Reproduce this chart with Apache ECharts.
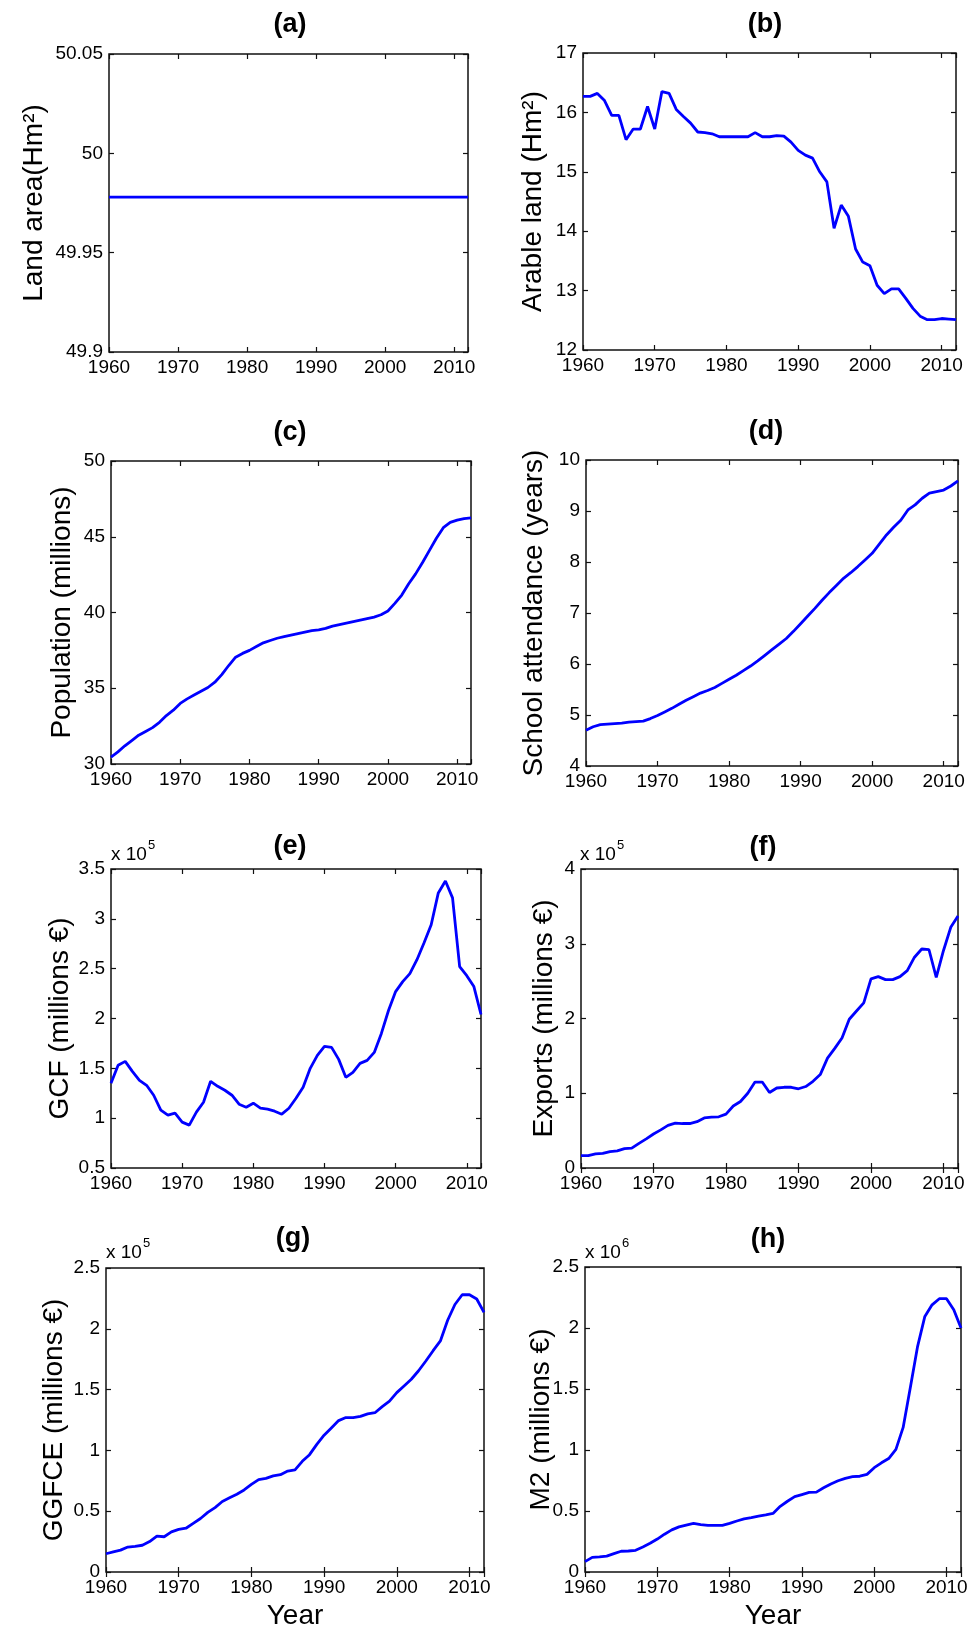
<!DOCTYPE html>
<html>
<head>
<meta charset="utf-8">
<script src="https://cdn.jsdelivr.net/npm/echarts@6/dist/echarts.min.js"></script>
<style>
html, body { margin: 0; padding: 0; background: #fff; }
#chart { width: 978px; height: 1634px; }
</style>
</head>
<body>
<div id="chart"></div>
<script>
// years on the x axis (one point per year)
var years = [1960, 1961, 1962, 1963, 1964, 1965, 1966, 1967, 1968, 1969,
	1970, 1971, 1972, 1973, 1974, 1975, 1976, 1977, 1978, 1979,
	1980, 1981, 1982, 1983, 1984, 1985, 1986, 1987, 1988, 1989,
	1990, 1991, 1992, 1993, 1994, 1995, 1996, 1997, 1998, 1999,
	2000, 2001, 2002, 2003, 2004, 2005, 2006, 2007, 2008, 2009,
	2010, 2011, 2012];
var xTicks = [1960, 1970, 1980, 1990, 2000, 2010];

// (a) land area, Hm2
var landArea = [49.978, 49.978, 49.978, 49.978, 49.978, 49.978, 49.978, 49.978, 49.978, 49.978,
	49.978, 49.978, 49.978, 49.978, 49.978, 49.978, 49.978, 49.978, 49.978, 49.978,
	49.978, 49.978, 49.978, 49.978, 49.978, 49.978, 49.978, 49.978, 49.978, 49.978,
	49.978, 49.978, 49.978, 49.978, 49.978, 49.978, 49.978, 49.978, 49.978, 49.978,
	49.978, 49.978, 49.978, 49.978, 49.978, 49.978, 49.978, 49.978, 49.978, 49.978,
	49.978, 49.978, 49.978];
// (b) arable land, Hm2
var arableLand = [16.27, 16.27, 16.32, 16.20, 15.95, 15.95, 15.54, 15.72, 15.72, 16.10,
	15.72, 16.35, 16.32, 16.05, 15.93, 15.82, 15.67, 15.66, 15.64, 15.59,
	15.59, 15.59, 15.59, 15.59, 15.66, 15.59, 15.59, 15.61, 15.60, 15.50,
	15.36, 15.28, 15.23, 15.00, 14.83, 14.05, 14.44, 14.25, 13.70, 13.48,
	13.42, 13.09, 12.95, 13.03, 13.03, 12.87, 12.70, 12.57, 12.51, 12.51,
	12.53, 12.52, 12.51];
// (c) population, millions
var population = [30.45, 30.8, 31.2, 31.55, 31.9, 32.15, 32.4, 32.75, 33.2, 33.55,
	34.0, 34.3, 34.55, 34.8, 35.05, 35.4, 35.9, 36.5, 37.05, 37.3,
	37.5, 37.75, 38.0, 38.15, 38.3, 38.4, 38.5, 38.6, 38.7, 38.8,
	38.85, 38.95, 39.1, 39.2, 39.3, 39.4, 39.5, 39.6, 39.7, 39.85,
	40.1, 40.6, 41.15, 41.9, 42.55, 43.3, 44.1, 44.9, 45.6, 45.95,
	46.1, 46.2, 46.25];
// (d) school attendance, years
var school = [4.70, 4.77, 4.81, 4.82, 4.83, 4.84, 4.86, 4.87, 4.88, 4.93,
	4.99, 5.06, 5.13, 5.21, 5.29, 5.36, 5.43, 5.48, 5.54, 5.62,
	5.70, 5.78, 5.87, 5.96, 6.06, 6.17, 6.28, 6.39, 6.50, 6.64,
	6.79, 6.94, 7.09, 7.25, 7.40, 7.54, 7.68, 7.79, 7.91, 8.04,
	8.17, 8.35, 8.53, 8.68, 8.82, 9.02, 9.12, 9.25, 9.35, 9.38,
	9.41, 9.49, 9.59];
// (e) GCF, millions EUR
var gcf = [135000, 153000, 157000, 147000, 138000, 133000, 123000, 108000, 103000, 105000,
	96000, 93000, 106000, 116000, 137000, 132000, 128000, 123000, 114000, 111000,
	115000, 110000, 109000, 107000, 104000, 110000, 120000, 131000, 150000, 163000,
	172000, 171000, 159000, 141000, 146000, 155000, 158000, 166000, 185000, 208000,
	227000, 237000, 245000, 259000, 276000, 294000, 326000, 338000, 321000, 252000,
	243000, 232000, 204000];
// (f) exports, millions EUR
var exportsVal = [16500, 16500, 19000, 19500, 22000, 23000, 26000, 26500, 33000, 39000,
	45500, 51000, 57000, 60000, 59500, 59500, 62000, 67000, 68000, 68500,
	72000, 83000, 89000, 100000, 115000, 115000, 101000, 107000, 108000, 108000,
	106000, 109000, 116000, 125000, 147000, 160000, 174000, 199000, 210000, 221000,
	253000, 256000, 252000, 252000, 256000, 264000, 282000, 293000, 292000, 255000,
	291000, 322000, 337000];
// (g) GGFCE, millions EUR
var ggfce = [15000, 16500, 18000, 20500, 21000, 22000, 25000, 29500, 29000, 33000,
	35000, 36000, 40000, 44000, 49000, 53000, 58000, 61000, 64000, 67500,
	72000, 76000, 77000, 79000, 80000, 83000, 84000, 91000, 96500, 105000,
	112500, 118500, 124500, 127000, 127000, 128000, 130000, 131000, 136000, 140500,
	147500, 153000, 158500, 165500, 173500, 182000, 190000, 207000, 220000, 228000,
	228000, 224500, 213500];
// (h) M2, millions EUR
var m2 = [85000, 120000, 124000, 130000, 150000, 170000, 172000, 178000, 205000, 235000,
	270000, 310000, 345000, 370000, 385000, 398000, 388000, 382000, 382000, 382000,
	398000, 418000, 435000, 445000, 458000, 468000, 480000, 538000, 580000, 618000,
	635000, 652000, 655000, 690000, 722000, 748000, 768000, 782000, 785000, 800000,
	855000, 895000, 930000, 1005000, 1185000, 1515000, 1850000, 2095000, 2190000, 2240000,
	2240000, 2150000, 2000000];

var FONT = '"Liberation Sans", Arial, Helvetica, sans-serif';
var INK = '#000';
var LINE = '#0000ff';

// layout of each panel (pixels)
var panels = [
	{tag: '(a)', data: landArea, name: 'Land area(Hm²)', left: 109, top: 54, width: 359, height: 298,
		min: 49.9, max: 50.05, step: 0.05, gap: 61, tx: 290, ty: 25},
	{tag: '(b)', data: arableLand, name: 'Arable land (Hm²)', left: 583, top: 53, width: 373, height: 297,
		min: 12, max: 17, step: 1, gap: 36, tx: 765, ty: 25},
	{tag: '(c)', data: population, name: 'Population (millions)', left: 111, top: 461, width: 360, height: 303,
		min: 30, max: 50, step: 5, gap: 35, tx: 290, ty: 433},
	{tag: '(d)', data: school, name: 'School attendance (years)', left: 586, top: 460, width: 372, height: 306,
		min: 4, max: 10, step: 1, gap: 38, tx: 766, ty: 432},
	{tag: '(e)', data: gcf, name: 'GCF (millions €)', left: 111, top: 869, width: 370, height: 299,
		min: 50000, max: 350000, step: 50000, gap: 37, tx: 290, ty: 847, scale: 1e5, exp: '5', ex: 111, ey: 855},
	{tag: '(f)', data: exportsVal, name: 'Exports (millions €)', left: 581, top: 869, width: 377, height: 299,
		min: 0, max: 400000, step: 100000, gap: 23, tx: 763, ty: 848, scale: 1e5, exp: '5', ex: 580, ey: 855},
	{tag: '(g)', data: ggfce, name: 'GGFCE (millions €)', left: 106, top: 1268, width: 378, height: 304,
		min: 0, max: 250000, step: 50000, gap: 38, tx: 293, ty: 1239, scale: 1e5, exp: '5', ex: 106, ey: 1253, year: true},
	{tag: '(h)', data: m2, name: 'M2 (millions €)', left: 585, top: 1267, width: 376, height: 305,
		min: 0, max: 2500000, step: 500000, gap: 30, tx: 768, ty: 1240, scale: 1e6, exp: '6', ex: 585, ey: 1253, year: true}
];

var grids = [], xAxes = [], yAxes = [], series = [], graphics = [];

function tickLabel(p) {
	return function (v) {
		var s = p.scale ? v / p.scale : v;
		return String(+s.toFixed(2));
	};
}

panels.forEach(function (p, i) {
	grids.push({
		left: p.left, top: p.top, width: p.width, height: p.height,
		show: true, borderColor: '#111', borderWidth: 1.5, backgroundColor: '#fff',
		outerBoundsMode: 'none'
	});
	var tick = {show: true, inside: true, length: 5, lineStyle: {color: '#111', width: 1.2}};
	// bottom axis with labels
	xAxes.push({
		type: 'value', gridIndex: i, position: 'bottom', min: 1960, max: 2012, interval: 10,
		axisLine: {show: false}, axisTick: tick, splitLine: {show: false},
		axisLabel: {
			color: INK, fontSize: 19, fontFamily: FONT, margin: 6,
			formatter: function (v) { return xTicks.indexOf(v) >= 0 ? String(v) : ''; }
		},
		name: p.year ? 'Year' : '', nameLocation: 'middle', nameGap: 30, nameMoveOverlap: false,
		nameTextStyle: {color: INK, fontSize: 28, fontFamily: FONT}
	});
	// top axis, ticks only
	xAxes.push({
		type: 'value', gridIndex: i, position: 'top', min: 1960, max: 2012, interval: 10,
		axisLine: {show: false}, axisTick: tick, axisLabel: {show: false}, splitLine: {show: false}
	});
	// left axis with labels and title
	yAxes.push({
		type: 'value', gridIndex: i, position: 'left', min: p.min, max: p.max, interval: p.step,
		axisLine: {show: false}, axisTick: tick, splitLine: {show: false},
		axisLabel: {color: INK, fontSize: 19, fontFamily: FONT, margin: 6, formatter: tickLabel(p)},
		name: p.name, nameLocation: 'middle', nameGap: p.gap, nameMoveOverlap: false,
		nameTextStyle: {color: INK, fontSize: 28, fontFamily: FONT}
	});
	// right axis, ticks only
	yAxes.push({
		type: 'value', gridIndex: i, position: 'right', min: p.min, max: p.max, interval: p.step,
		axisLine: {show: false}, axisTick: tick, axisLabel: {show: false}, splitLine: {show: false}
	});
	series.push({
		type: 'line', xAxisIndex: 2 * i, yAxisIndex: 2 * i,
		data: years.map(function (y, k) { return [y, p.data[k]]; }),
		showSymbol: false, symbol: 'none', smooth: false, clip: true,
		lineStyle: {color: LINE, width: 2.8}
	});
	// panel letter
	graphics.push({
		type: 'text', x: p.tx, y: p.ty,
		style: {text: p.tag, fill: INK, fontSize: 27, fontWeight: 'bold', fontFamily: FONT,
			align: 'center', verticalAlign: 'middle'}
	});
	// x 10^n multiplier
	if (p.exp) {
		graphics.push({
			type: 'text', x: p.ex, y: p.ey,
			style: {text: 'x 10', fill: INK, fontSize: 19, fontFamily: FONT, align: 'left', verticalAlign: 'middle'}
		});
		graphics.push({
			type: 'text', x: p.ex + 37, y: p.ey - 10,
			style: {text: p.exp, fill: INK, fontSize: 13, fontFamily: FONT, align: 'left', verticalAlign: 'middle'}
		});
	}
});

var chart = echarts.init(document.getElementById('chart'), null, {renderer: 'canvas'});
chart.setOption({
	backgroundColor: '#fff',
	animation: false,
	grid: grids,
	xAxis: xAxes,
	yAxis: yAxes,
	series: series,
	graphic: graphics
});
</script>
</body>
</html>
